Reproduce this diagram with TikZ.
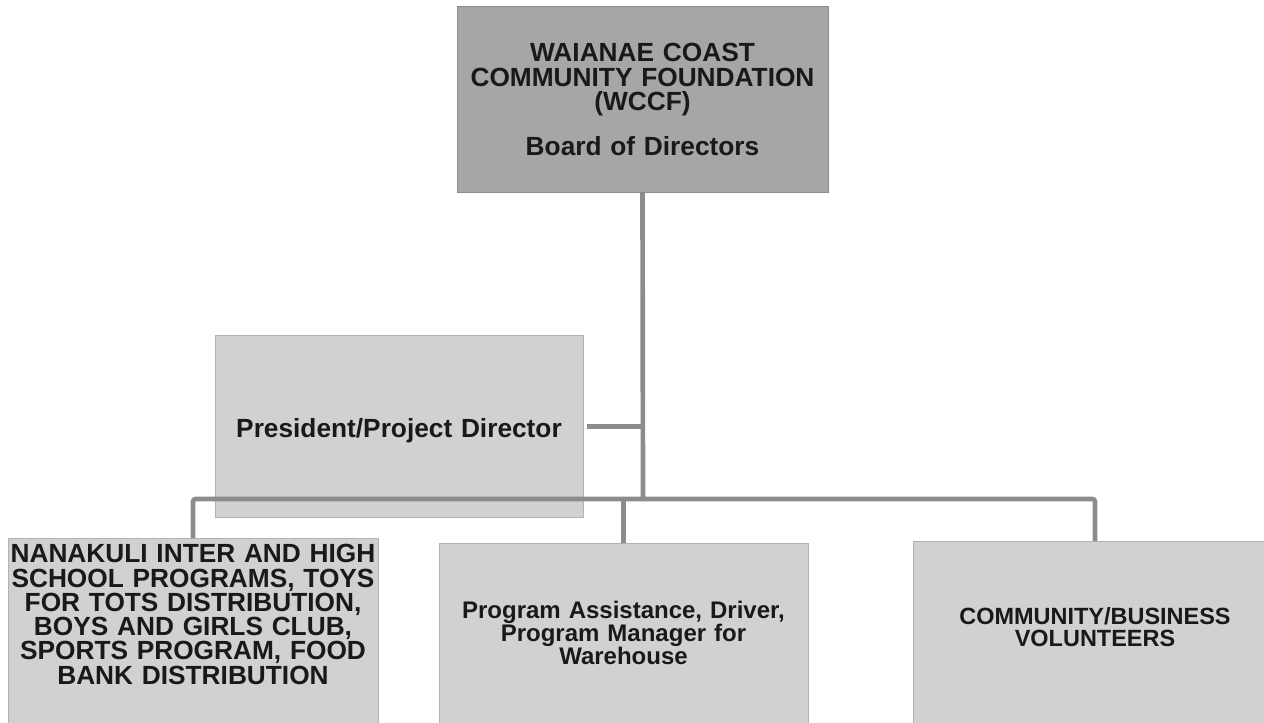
\documentclass[tikz,border=0pt]{standalone}
\usepackage{fontspec}
\setmainfont{Liberation Sans}
\begin{document}
\begin{tikzpicture}[x=0.75pt,y=-0.75pt,
  box/.style={anchor=north,inner sep=0pt,align=center,text=black!90},
  topbox/.style={box,fill=black!35,draw=black!45,line width=0.5pt},
  lowbox/.style={box,fill=black!18,draw=black!30,line width=0.5pt},
  link/.style={draw=black!45,line width=3.5pt,rounded corners=2pt}]
\useasboundingbox (0,0) rectangle (1264,722);
\clip (0,0) rectangle (1264,722);

\node[topbox,text width=278.25pt,text height=41.6pt,text depth=97.9pt,
  font=\bfseries\fontsize{19.7}{18.4}\selectfont] (wccf) at (642.5,6)
  {WAIANAE COAST\\COMMUNITY FOUNDATION\\(WCCF)\\[15.4pt]Board of Directors};

\node[lowbox,text width=276pt,text height=76.9pt,text depth=59.6pt,
  font=\bfseries\fontsize{19.7}{18.4}\selectfont] (president) at (399,335)
  {President/Project Director};

\node[lowbox,text width=277.5pt,text height=18.4pt,text depth=140pt,
  font=\bfseries\fontsize{19.7}{18.2}\selectfont] (nanakuli) at (193,538)
  {NANAKULI INTER AND HIGH\\SCHOOL PROGRAMS, TOYS\\FOR TOTS DISTRIBUTION,\\BOYS AND GIRLS CLUB,\\SPORTS PROGRAM, FOOD\\BANK DISTRIBUTION};

\node[lowbox,text width=276.75pt,text height=56.7pt,text depth=140pt,
  font=\bfseries\fontsize{18}{16.9}\selectfont] (assist) at (623.5,543)
  {Program Assistance, Driver,\\Program Manager for\\Warehouse};

\node[lowbox,text width=273pt,text height=62pt,text depth=140pt,
  font=\bfseries\fontsize{17.6}{16.6}\selectfont] (volunteers) at (1095,541)
  {COMMUNITY/BUSINESS\\VOLUNTEERS};

\coordinate (hub) at (643,499);
\draw[link] (wccf.south) -- (hub);
\draw[link] ([xshift=3pt]president.east) -- (president.east -| hub);
\draw[link] (nanakuli.north) -- (nanakuli.north |- hub) -- (volunteers.north |- hub) -- (volunteers.north);
\draw[link] (assist.north |- hub) -- (assist.north);
\end{tikzpicture}
\end{document}
